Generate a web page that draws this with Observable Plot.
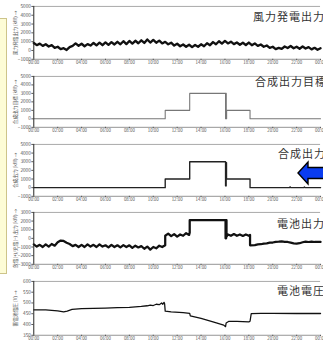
<!DOCTYPE html>
<html><head><meta charset="utf-8">
<script src="https://cdn.jsdelivr.net/npm/d3@7"></script>
<script src="https://cdn.jsdelivr.net/npm/@observablehq/plot@0.6"></script>
<style>
html,body{margin:0;padding:0;background:#fff;width:323px;height:342px;overflow:hidden;}
#wrap{position:relative;width:323px;height:342px;overflow:hidden;font-family:"Noto Sans CJK JP",sans-serif;}
.panel{position:absolute;left:0;}
.title{position:absolute;font-size:11px;letter-spacing:1px;color:#333;white-space:nowrap;line-height:1;}
#side{position:absolute;left:-3px;top:18px;width:8px;height:254px;background:#fdfcd6;border:1px solid #cdc48a;}
</style></head><body><div id="wrap"><div id="side"></div></div>
<script>
// ---- axis ticks / labels ----
const hourTicks = [0, 2, 4, 6, 8, 10, 12, 14, 16, 18, 20, 22, 24];
const hourLabels = ["00:00","02:00","04:00","06:00","08:00","10:00","12:00","14:00","16:00","18:00","20:00","22:00","00:00"];
const kwTicks = [-1000, 0, 1000, 2000, 3000, 4000, 5000];
const batTicks = [-3000, -2000, -1000, 0, 1000, 2000, 3000];
const voltTicks = [350, 400, 450, 500, 550, 600];

// ---- titles ----
const panelTitles = ["風力発電出力", "合成出力目標", "合成出力", "電池出力", "電池電圧"];
const axisTitles = ["風力発電出力 (kW)", "合成出力目標 (kW)", "合成出力 (kW)", "放電(+)/充電(−) 出力 (kW)", "蓄電池電圧 (V)"];

// ---- data: wind output every 15 min (kW) ----
const windKW = [850,600,780,520,700,450,600,300,420,150,260,60,380,520,800,540,760,480,720,560,
  850,580,880,600,920,640,950,680,980,700,1050,720,1080,780,1100,820,1150,850,1250,900,
  1200,880,1120,800,980,700,880,560,760,480,680,420,650,380,620,420,700,480,820,600,
  950,700,1050,780,1080,800,1000,720,900,650,880,620,900,600,800,520,680,420,560,300,
  420,150,300,180,450,280,500,250,420,200,450,220,380,120,300,80,250];

// ---- composite output target [hour, kW] ----
const targetKW = [[0,0],[11,0],[11,1000],[13.05,1000],[13.05,3000],[16.05,3000],[16.05,0],[16.08,0],
  [16.08,3000],[16.11,3000],[16.11,0],[16.14,0],[16.14,1000],[18.1,1000],[18.1,0],[24,0]];

// ---- composite output [hour, kW] ----
const compositeKW = [[0,0],[11,0],[11,1000],[13.05,1000],[13.05,3000],[16.05,3000],[16.05,200],[16.1,200],
  [16.1,2900],[16.13,2900],[16.13,1000],[18.1,1000],[18.1,0],[21.4,0],[21.45,100],[21.5,0],
  [22.6,0],[22.65,80],[22.7,0],[24,0]];

// ---- battery output [hour, kW] ----
const batteryKW = [[0,-700],[0.25,-950],[0.5,-750],[0.75,-1000],[1,-700],[1.25,-950],[1.5,-650],[1.75,-850],
  [2,-450],[2.25,-250],[2.5,-300],[2.75,-500],[3,-650],[3.25,-900],[3.5,-750],[3.75,-1000],
  [4,-750],[4.25,-1000],[4.5,-700],[4.75,-950],[5,-750],[5.25,-1000],[5.5,-700],[5.75,-950],
  [6,-800],[6.25,-1050],[6.5,-750],[6.75,-1000],[7,-800],[7.25,-1050],[7.5,-780],[7.75,-1000],
  [8,-800],[8.25,-1100],[8.5,-850],[8.75,-1050],[9,-900],[9.25,-1200],[9.5,-950],[9.75,-1300],
  [10,-1000],[10.25,-1150],[10.5,-850],[10.75,-1000],[11,-800],[11,300],[11.25,550],[11.5,250],
  [11.75,500],[12,200],[12.25,450],[12.5,300],[12.75,600],[13,400],[13.05,650],[13.05,2100],
  [16.05,2100],[16.05,0],[16.1,0],[16.1,2100],[16.13,2100],[16.13,200],[16.25,450],[16.5,300],
  [16.75,500],[17,300],[17.25,450],[17.5,280],[17.75,450],[18,300],[18.1,400],[18.1,-800],
  [18.5,-780],[18.75,-700],[19,-680],[19.25,-600],[19.5,-580],[19.75,-500],[20,-480],[20.25,-400],
  [20.5,-380],[20.75,-350],[21,-400],[21.25,-420],[21.5,-500],[21.75,-580],[22,-620],[22.25,-560],
  [22.5,-450],[22.75,-380],[23,-420],[23.25,-380],[23.5,-420],[23.75,-400],[24,-420]];

// ---- battery voltage [hour, V] ----
const voltageV = [[0,468],[1,468],[1.5,466],[2,463],[2.5,459],[2.8,462],[3.2,470],[4,474],[5,475],[6,476],
  [7,478],[8,480],[9,484],[9.5,487],[9.75,490],[10,488],[10.25,494],[10.5,492],[10.7,500],[10.8,494],
  [10.9,503],[10.95,496],[11,462],[11.5,459],[12.5,455],[13.05,452],[13.1,440],[14,428],[15,412],
  [15.9,397],[16.05,390],[16.1,407],[16.3,414],[17,414],[18,412],[18.1,415],[18.2,450],[19,452],
  [20,452],[22,451],[24,451]];

const FONT = '"Noto Sans CJK JP", sans-serif';
const wrap = document.getElementById("wrap");
const intFmt = d3.format("d");

function panel({top, bottom, domain, ticks, label, marks}) {
  const mt = 3, mb = 8;
  const svg = Plot.plot({
    width: 330, height: (bottom - top) + mt + mb,
    marginLeft: 34, marginRight: 3, marginTop: mt, marginBottom: mb,
    style: {fontFamily: FONT, background: "transparent", overflow: "visible"},
    x: {domain: [0, 24]},
    y: {domain},
    marks: [
      Plot.ruleY([domain[1]], {stroke: "#a8a8a8", strokeWidth: 1}),
      Plot.ruleY([domain[0]], {stroke: "#777", strokeWidth: 0.8}),
      Plot.axisX({ticks: hourTicks, tickFormat: d => hourLabels[hourTicks.indexOf(d)],
        tickSize: 1.5, tickPadding: 0.5, fontSize: 4.5, fill: "#555", stroke: "#555", label: null}),
      Plot.axisY({ticks, tickFormat: intFmt, tickSize: 2, tickPadding: 1, fontSize: 4.8, fill: "#555", stroke: "#555",
        label, labelAnchor: "center", labelOffset: 21}),
      ...marks,
      Plot.ruleX([0], {stroke: "#222", strokeWidth: 1})
    ]
  });
  svg.classList.add("panel");
  svg.style.position = "absolute";
  svg.style.top = (top - mt) + "px";
  svg.style.left = "0px";
  wrap.appendChild(svg);
}

const windData = windKW.map((v, i) => ({t: i / 4, v}));
const toObj = arr => arr.map(([t, v]) => ({t, v}));

panel({top: 6, bottom: 60, domain: [-1000, 5000], ticks: kwTicks, label: axisTitles[0],
  marks: [Plot.line(windData, {x: "t", y: "v", stroke: "#111", strokeWidth: 2.4})]});
panel({top: 76, bottom: 128, domain: [-1000, 5000], ticks: kwTicks, label: axisTitles[1],
  marks: [Plot.line(toObj(targetKW), {x: "t", y: "v", stroke: "#777", strokeWidth: 1.1})]});
panel({top: 144, bottom: 197, domain: [-1000, 5000], ticks: kwTicks, label: axisTitles[2],
  marks: [Plot.line(toObj(compositeKW), {x: "t", y: "v", stroke: "#222", strokeWidth: 1.4})]});
panel({top: 212, bottom: 265, domain: [-3000, 3000], ticks: batTicks, label: axisTitles[3],
  marks: [Plot.line(toObj(batteryKW), {x: "t", y: "v", stroke: "#111", strokeWidth: 2.3})]});
panel({top: 281, bottom: 336, domain: [350, 600], ticks: voltTicks, label: axisTitles[4],
  marks: [Plot.line(toObj(voltageV), {x: "t", y: "v", stroke: "#111", strokeWidth: 1.3})]});

// panel titles (top right)
const titlePos = [[253, 11], [255, 76], [278, 148], [277, 218], [277, 285]];
panelTitles.forEach((t, i) => {
  const d = document.createElement("div");
  d.className = "title";
  d.textContent = t;
  d.style.left = titlePos[i][0] + "px";
  d.style.top = titlePos[i][1] + "px";
  wrap.appendChild(d);
});

// blue annotation arrow
const ns = "http://www.w3.org/2000/svg";
const ov = document.createElementNS(ns, "svg");
ov.setAttribute("width", 323); ov.setAttribute("height", 342);
ov.style.position = "absolute"; ov.style.left = "0"; ov.style.top = "0";
const poly = document.createElementNS(ns, "polygon");
poly.setAttribute("points", "298,173 308,162 308,167.5 330,167.5 330,178.5 308,178.5 308,184");
poly.setAttribute("fill", "#0a3cf0");
poly.setAttribute("stroke", "#000");
poly.setAttribute("stroke-width", "1.4");
poly.setAttribute("stroke-linejoin", "miter");
ov.appendChild(poly);
wrap.appendChild(ov);
</script>
</body></html>
